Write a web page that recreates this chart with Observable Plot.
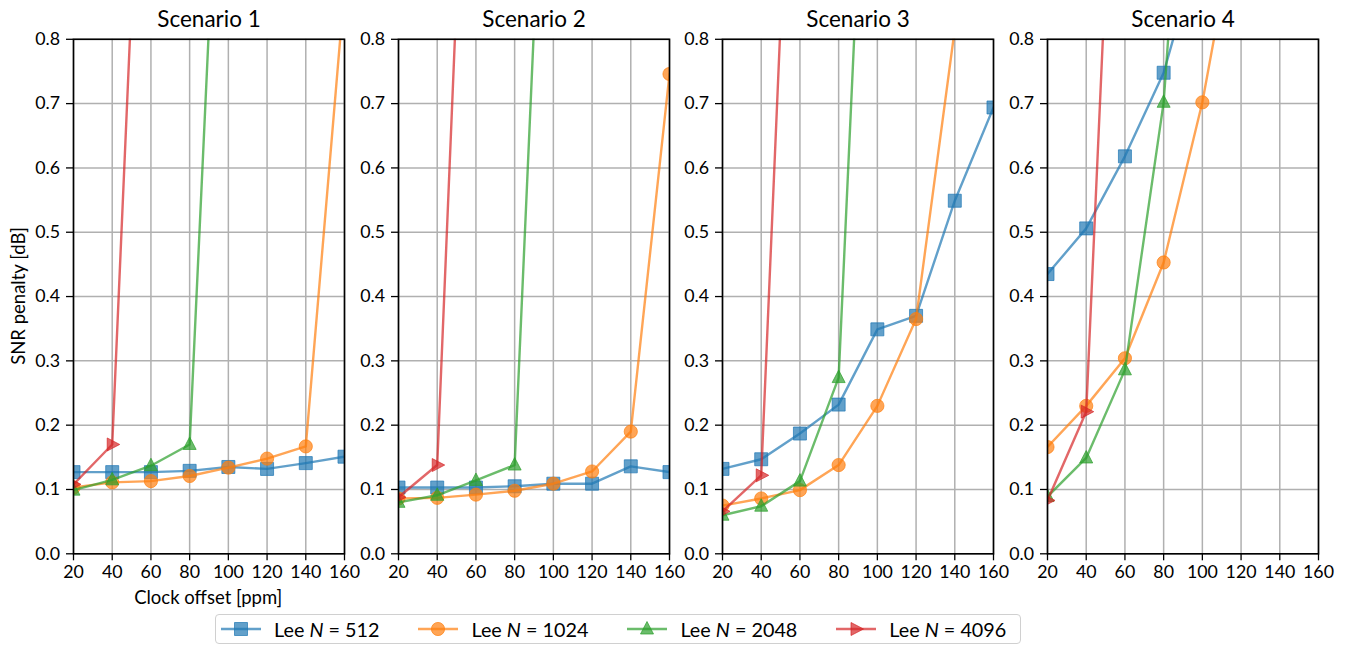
<!DOCTYPE html>
<html>
<head>
<meta charset="utf-8">
<script src="https://cdn.jsdelivr.net/npm/d3@7"></script>
<script src="https://cdn.jsdelivr.net/npm/@observablehq/plot@0.6"></script>
<style>
  html, body { margin: 0; padding: 0; background: #ffffff; }
  #root { position: relative; width: 1349px; height: 646px; overflow: hidden; font-family: Lato, "Noto Sans", sans-serif; color: #000; }
  .panel { position: absolute; top: 0; }
  .xlabel { position: absolute; font-size: 18.5px; line-height: 18.5px; white-space: nowrap; transform: translateX(-50%); }
  .ylabel { position: absolute; font-size: 18.5px; line-height: 18.5px; white-space: nowrap; transform: translate(-50%, -50%) rotate(-90deg); }
  .legend { position: absolute; left: 215px; top: 613.5px; height: 30px; border: 1px solid #d0d0d0; border-radius: 4px; background: #fff; display: flex; align-items: center; padding: 0 14px 0 5px; box-sizing: border-box; }
  .item { display: flex; align-items: center; margin-right: 39px; }
  .item:last-child { margin-right: 0; }
  .item svg { margin-right: 13px; }
  .item span { font-size: 19.8px; white-space: nowrap; }
</style>
</head>
<body>
<div id="root"></div>
<script>
// ---- data ----
const offsets = [20, 40, 60, 80, 100, 120, 140, 160];
const yTicks = [0, 0.1, 0.2, 0.3, 0.4, 0.5, 0.6, 0.7, 0.8];
const scenarios = ["Scenario 1", "Scenario 2", "Scenario 3", "Scenario 4"];
const blockSizes = ["512", "1024", "2048", "4096"];
const colors = ["#1f77b4", "#ff7f0e", "#2ca02c", "#d62728"];

// values per scenario, per N, aligned with offsets (null = no point)
const s1_n512  = [0.127, 0.127, 0.127, 0.129, 0.135, 0.132, 0.141, 0.151];
const s1_n1024 = [0.103, 0.111, 0.113, 0.121, 0.134, 0.148, 0.167, 0.88];
const s1_n2048 = [0.099, 0.115, 0.137, 0.170, 1.47, null, null, null];
const s1_n4096 = [0.108, 0.170, 1.55, null, null, null, null, null];

const s2_n512  = [0.103, 0.103, 0.103, 0.105, 0.109, 0.109, 0.136, 0.127];
const s2_n1024 = [0.086, 0.087, 0.092, 0.098, 0.109, 0.128, 0.190, 0.746];
const s2_n2048 = [0.080, 0.091, 0.114, 0.138, 1.50, null, null, null];
const s2_n4096 = [0.088, 0.138, 1.59, null, null, null, null, null];

const s3_n512  = [0.132, 0.147, 0.187, 0.232, 0.349, 0.370, 0.549, 0.694];
const s3_n1024 = [0.075, 0.086, 0.099, 0.138, 0.230, 0.365, 0.816, null];
const s3_n2048 = [0.060, 0.074, 0.113, 0.274, 1.59, null, null, null];
const s3_n4096 = [0.066, 0.122, 1.53, null, null, null, null, null];

const s4_n512  = [0.435, 0.506, 0.618, 0.748, 0.96, null, null, null];
const s4_n1024 = [0.166, 0.230, 0.304, 0.453, 0.702, 1.03, null, null];
const s4_n2048 = [0.089, 0.149, 0.286, 0.702, 1.55, null, null, null];
const s4_n4096 = [0.083, 0.221, 1.57, null, null, null, null, null];

const scenarioSeries = [
  [s1_n512, s1_n1024, s1_n2048, s1_n4096],
  [s2_n512, s2_n1024, s2_n2048, s2_n4096],
  [s3_n512, s3_n1024, s3_n2048, s3_n4096],
  [s4_n512, s4_n1024, s4_n2048, s4_n4096]
];

// ---- marker symbols ----
const symSquare = { draw(c) { c.moveTo(-6.5, -6.5); c.lineTo(6.5, -6.5); c.lineTo(6.5, 6.5); c.lineTo(-6.5, 6.5); c.closePath(); } };
const symCircle = { draw(c) { c.moveTo(6.6, 0); c.arc(0, 0, 6.6, 0, 2 * Math.PI); c.closePath(); } };
const symTriUp = { draw(c) { c.moveTo(0, -7.5); c.lineTo(-6.5, 5); c.lineTo(6.5, 5); c.closePath(); } };
const symTriRight = { draw(c) { c.moveTo(7.5, 0); c.lineTo(-5, -6.5); c.lineTo(-5, 6.5); c.closePath(); } };
const symbols = [symSquare, symCircle, symTriUp, symTriRight];

// ---- layout ----
const facetLefts = [72.7, 397.7, 721.7, 1046.5];
const facetWidth = 271;
const mLeft = 73, mRight = 12, mTop = 38.8, mBottom = 30;
const frameHeight = 514.5;

const root = document.getElementById("root");

scenarios.forEach((title, i) => {
  const marks = [
    Plot.ruleX(offsets, { stroke: "#b0b0b0", strokeWidth: 1.5 }),
    Plot.ruleY(yTicks, { stroke: "#b0b0b0", strokeWidth: 1.5 })
  ];
  scenarioSeries[i].forEach((vals, k) => {
    const pts = offsets.map((x, j) => ({ x, y: vals[j] })).filter(d => d.y != null);
    marks.push(Plot.line(pts, { x: "x", y: "y", stroke: colors[k], strokeOpacity: 0.7, strokeWidth: 2.4, clip: true }));
    marks.push(Plot.dot(pts, { x: "x", y: "y", symbol: symbols[k], r: 6.5, fill: colors[k], fillOpacity: 0.7, stroke: colors[k], strokeOpacity: 0.7, strokeWidth: 1, clip: true }));
  });
  marks.push(Plot.frame({ stroke: "black", strokeWidth: 1.6 }));
  marks.push(Plot.axisX(offsets, { tickSize: 7, tickPadding: 4.5, strokeWidth: 1.3, label: null }));
  marks.push(Plot.axisY(yTicks, { tickSize: 7, tickPadding: 6.5, strokeWidth: 1.3, tickFormat: d3.format(".1f"), label: null }));
  marks.push(Plot.text([title], { text: d => d, frameAnchor: "top", lineAnchor: "bottom", dy: -12, fontSize: 22.5 }));

  const svg = Plot.plot({
    width: mLeft + facetWidth + mRight,
    height: mTop + frameHeight + mBottom,
    marginLeft: mLeft,
    marginRight: mRight,
    marginTop: mTop,
    marginBottom: mBottom,
    x: { domain: [20, 160], label: null },
    y: { domain: [0, 0.8], label: null },
    style: { fontFamily: "Lato, 'Noto Sans', sans-serif", fontSize: "17.8px", color: "black", background: "transparent", overflow: "visible" },
    marks
  });
  svg.classList.add("panel");
  svg.style.position = "absolute";
  svg.style.left = (facetLefts[i] - mLeft) + "px";
  svg.style.top = "0px";
  root.appendChild(svg);
});

// axis labels
const xl = document.createElement("div");
xl.className = "xlabel";
xl.textContent = "Clock offset [ppm]";
xl.style.left = (facetLefts[0] + facetWidth / 2) + "px";
xl.style.top = "588px";
root.appendChild(xl);

const yl = document.createElement("div");
yl.className = "ylabel";
yl.textContent = "SNR penalty [dB]";
yl.style.left = "18px";
yl.style.top = "296px";
root.appendChild(yl);

// legend
const legend = document.createElement("div");
legend.className = "legend";
const svgNS = "http://www.w3.org/2000/svg";
blockSizes.forEach((n, k) => {
  const item = document.createElement("div");
  item.className = "item";
  const s = document.createElementNS(svgNS, "svg");
  s.setAttribute("width", "40");
  s.setAttribute("height", "20");
  const ln = document.createElementNS(svgNS, "line");
  ln.setAttribute("x1", "0"); ln.setAttribute("x2", "40");
  ln.setAttribute("y1", "10"); ln.setAttribute("y2", "10");
  ln.setAttribute("stroke", colors[k]); ln.setAttribute("stroke-opacity", "0.7"); ln.setAttribute("stroke-width", "2.4");
  s.appendChild(ln);
  const p = d3.path();
  symbols[k].draw(p, 0);
  const mk = document.createElementNS(svgNS, "path");
  mk.setAttribute("d", p.toString());
  mk.setAttribute("transform", "translate(20,10)");
  mk.setAttribute("fill", colors[k]); mk.setAttribute("fill-opacity", "0.7");
  mk.setAttribute("stroke", colors[k]); mk.setAttribute("stroke-opacity", "0.7");
  s.appendChild(mk);
  item.appendChild(s);
  const t = document.createElement("span");
  t.innerHTML = "Lee <i>N</i> = " + n;
  item.appendChild(t);
  legend.appendChild(item);
});
root.appendChild(legend);
</script>
</body>
</html>
